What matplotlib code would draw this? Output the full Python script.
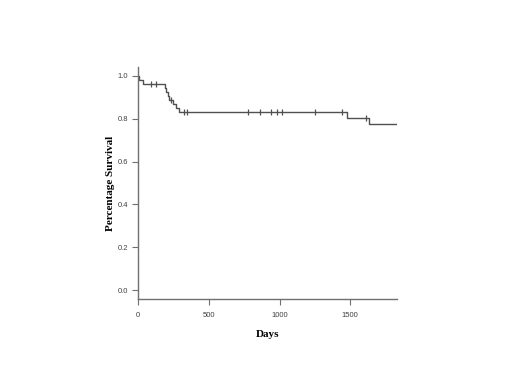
import matplotlib
matplotlib.use("Agg")
import matplotlib.pyplot as plt
import numpy as np

# Kaplan-Meier step data
step_days = [0, 8, 38, 190, 200, 210, 222, 245, 265, 292, 1480, 1635, 1830]
step_surv = [1.0, 0.981, 0.963, 0.944, 0.926, 0.907, 0.889, 0.870, 0.852, 0.834, 0.805, 0.775, 0.775]
censor_days = [94, 125, 230, 322, 346, 778, 860, 943, 982, 1018, 1253, 1443, 1610]

x_ticks = [0, 500, 1000, 1500]
y_ticks = [0.0, 0.2, 0.4, 0.6, 0.8, 1.0]
x_label = "Days"
y_label = "Percentage Survival"

fig = plt.figure(figsize=(5.2, 3.9), dpi=100)
ax = fig.add_axes([0.2654, 0.2333, 0.4981, 0.5949])

line_color = "#505050"
ax.step(step_days, step_surv, where="post", color=line_color, lw=1.0)

# censor marks on the curve
idx = np.searchsorted(step_days, censor_days, side="right") - 1
censor_surv = [step_surv[i] for i in idx]
ax.plot(censor_days, censor_surv, linestyle="none", marker="|", color=line_color,
        markersize=5, markeredgewidth=0.9)

ax.set_xlim(0, 1830)
ax.set_ylim(-0.042, 1.042)
ax.set_xticks(x_ticks)
ax.set_yticks(y_ticks)
ax.set_xticklabels([str(t) for t in x_ticks])
ax.set_yticklabels([f"{t:.1f}" for t in y_ticks])

for s in ["top", "right"]:
    ax.spines[s].set_visible(False)
for s in ["left", "bottom"]:
    ax.spines[s].set_color("#707070")
    ax.spines[s].set_linewidth(1.0)

ax.tick_params(axis="both", direction="out", length=4, width=0.8, color="#707070",
               labelsize=5.5, labelcolor="#404040", pad=3)
ax.tick_params(axis="x", pad=5)
for lab in ax.get_xticklabels() + ax.get_yticklabels():
    lab.set_family("Liberation Sans")

ax.set_xlabel(x_label, family="Liberation Serif", fontweight="bold", fontsize=8, labelpad=8)
ax.set_ylabel(y_label, family="Liberation Serif", fontweight="bold", fontsize=8, labelpad=2)

fig.savefig("out.png", dpi=100)
